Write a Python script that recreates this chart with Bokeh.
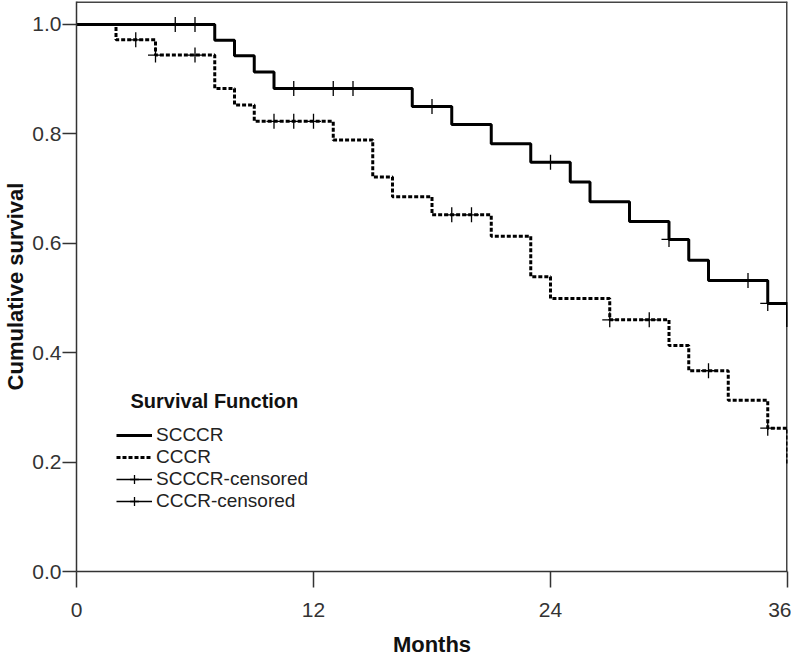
import numpy as np
from bokeh.plotting import figure
from bokeh.models import (FixedTicker, NumeralTickFormatter, Legend, LegendItem, Label,
                          Range1d)
from bokeh.embed import file_html
from bokeh.resources import INLINE

# ---- data ----
months_ticks = [0, 12, 24, 36]
surv_ticks = [0.0, 0.2, 0.4, 0.6, 0.8, 1.0]

scccr_time = [0, 7, 8, 9, 10, 17, 19, 21, 23, 25, 26, 28, 30, 31, 32, 35, 36]
scccr_surv = [1.0, 0.971, 0.943, 0.913, 0.883, 0.850, 0.817, 0.782, 0.748, 0.712,
              0.676, 0.640, 0.607, 0.569, 0.532, 0.490, 0.447]
scccr_cens_time = [5, 6, 11, 13, 14, 18, 24, 30, 34, 35]

cccr_time = [0, 2, 4, 7, 8, 9, 13, 15, 16, 18, 21, 23, 24, 27, 30, 31, 33, 35, 36]
cccr_surv = [1.0, 0.972, 0.944, 0.883, 0.853, 0.823, 0.789, 0.721, 0.685, 0.652,
             0.613, 0.539, 0.499, 0.460, 0.413, 0.367, 0.313, 0.262, 0.195]
cccr_cens_time = [3, 4, 6, 10, 11, 12, 19, 20, 27, 29, 32, 35]


def surv_at(times, surv, t):
    idx = np.searchsorted(np.array(times), np.array(t), side="right") - 1
    return list(np.array(surv)[idx])


TICK_FONT = "Liberation Sans Narrow, Liberation Sans, Arial, sans-serif"
LABEL_FONT = "Liberation Sans, Arial, sans-serif"

x_range = Range1d(0, 36)
y_range = Range1d(0, 1.042)

p = figure(width=784, height=646, frame_width=711, frame_height=570,
           min_border_left=66, min_border_right=4, min_border_top=1, min_border_bottom=60,
           x_range=x_range, y_range=y_range,
           output_backend="svg", toolbar_location=None)

p.xgrid.visible = False
p.ygrid.visible = False
p.outline_line_color = None
p.background_fill_color = "white"
p.border_fill_color = "white"

xa = p.below[0]
ya = p.left[0]

# top and right border of the plot box (taken from the axis ranges)
p.segment(x0=[x_range.start, x_range.end], y0=[y_range.end, y_range.start],
          x1=[x_range.end, x_range.end], y1=[y_range.end, y_range.end],
          line_color="#444444", line_width=3)

# main axes
for ax in (xa, ya):
    ax.axis_line_color = "#333333"
    ax.axis_line_width = 1.5
    ax.major_tick_line_color = "#333333"
    ax.major_tick_line_width = 1.5
    ax.major_tick_in = 0
    ax.minor_tick_line_color = None
    ax.major_label_text_font = TICK_FONT
    ax.major_label_text_font_size = "21px"
    ax.major_label_text_color = "#333333"
    ax.axis_label_text_font = LABEL_FONT
    ax.axis_label_text_font_style = "bold"
    ax.axis_label_text_font_size = "22px"
    ax.axis_label_text_color = "#111111"

xa.ticker = FixedTicker(ticks=months_ticks)
xa.major_tick_out = 16
xa.major_label_standoff = 15
xa.axis_label = "Months"
xa.axis_label_standoff = 12

ya.ticker = FixedTicker(ticks=surv_ticks)
ya.formatter = NumeralTickFormatter(format="0.0")
ya.major_tick_out = 14
ya.major_label_standoff = 1
ya.axis_label = "Cumulative survival"
ya.axis_label_standoff = 1

# curves
r_s = p.step(scccr_time, scccr_surv, mode="after", line_color="black", line_width=3)
r_c = p.step(cccr_time, cccr_surv, mode="after", line_color="black", line_width=3,
             line_dash="4 2")

r_sc = p.scatter(scccr_cens_time, surv_at(scccr_time, scccr_surv, scccr_cens_time),
                 marker="cross", size=15, line_color="black", line_width=1.3)
r_cc = p.scatter(cccr_cens_time, surv_at(cccr_time, cccr_surv, cccr_cens_time),
                 marker="cross", size=15, line_color="black", line_width=1.3)

# placeholder line renderers (no visible data) used only for legend samples
d1 = p.line([np.nan], [np.nan], line_color="black", line_width=1.3)
d2 = p.line([np.nan], [np.nan], line_color="black", line_width=1.3)

legend = Legend(items=[
    LegendItem(label="SCCCR", renderers=[r_s]),
    LegendItem(label="CCCR", renderers=[r_c]),
    LegendItem(label="SCCCR-censored", renderers=[d1, r_sc]),
    LegendItem(label="CCCR-censored", renderers=[d2, r_cc]),
], location=(40, 59), padding=0, margin=0, spacing=0,
    glyph_width=36, glyph_height=22, label_height=22, label_standoff=4,
    label_text_font=LABEL_FONT, label_text_font_size="19px", label_text_color="#222222",
    border_line_color=None, background_fill_alpha=0)
p.add_layout(legend, "center")

title = Label(x=54, y=171, x_units="screen", y_units="screen", text="Survival Function",
              text_font=LABEL_FONT, text_font_style="bold", text_font_size="20px",
              text_color="#111111", text_baseline="middle", text_align="left")
p.add_layout(title)

open("out.html", "w").write(file_html(p, INLINE))
